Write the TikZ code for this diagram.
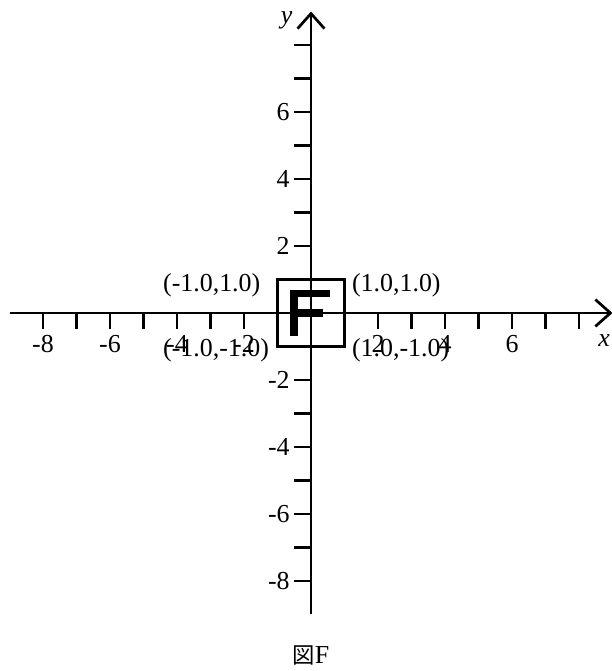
\documentclass[tikz,border=0pt]{standalone}
\usepackage{fontspec}
\setmainfont{Liberation Serif}
\newfontfamily\cjkfont{Noto Sans CJK JP}
\usetikzlibrary{arrows.meta}
\begin{document}
\begin{tikzpicture}[
  axisline/.style={line width=2.3pt,-{Straight Barb[length=0.45cm,width=0.8cm,line width=2.3pt]}},
  tickline/.style={line width=2.3pt},
  lbl/.style={font=\fontsize{22}{26}\selectfont,inner sep=0pt},
  sq/.style={line width=2.5pt},
  fbar/.style={fill=black,draw=none}
]
\useasboundingbox (-9.284,-10.687) rectangle (8.955,9.343);
% axes
\coordinate (xl) at (-9,0);
\coordinate (xr) at (9,0);
\coordinate (yb) at (0,-9);
\coordinate (yt) at (0,9);
\draw[axisline] (xl) -- (xr);
\draw[axisline] (yb) -- (yt);
% ticks
\foreach \k in {-8,...,-1,1,2,...,8}{
  \draw[tickline] (\k,0) -- (\k,-0.48);
  \draw[tickline] (0,\k) -- (-0.5,\k);
}
% tick labels
\foreach \k in {-8,-6,-4,-2,2,4,6}{
  \node[lbl,anchor=north] (xt\k) at (\k,-0.66) {\k};
}
\foreach \k in {-8,-6,-4,-2,2,4,6}{
  \node[lbl,anchor=east] (yt\k) at (-0.63,\k) {\k};
}
\node[lbl,anchor=east,font=\fontsize{22}{26}\selectfont\itshape] (ylab) at (-0.55,8.75) {y};
\node[lbl,font=\fontsize{22}{26}\selectfont\itshape] (xlab) at (8.75,-0.82) {x};
% square
\draw[sq] (-1,-1) rectangle (1,1);
% F
\fill[fbar] (-0.627,-0.69) rectangle (-0.388,0.69);
\fill[fbar] (-0.627,0.475) rectangle (0.567,0.69);
\fill[fbar] (-0.627,-0.12) rectangle (0.36,0.12);
% corner labels
\node[lbl,anchor=base west] (tl) at (-4.42,0.63) {(-1.0,1.0)};
\node[lbl,anchor=base west] (tr) at (1.22,0.63) {(1.0,1.0)};
\node[lbl,anchor=base west] (bl) at (-4.42,-1.31) {(-1.0,-1.0)};
\node[lbl,anchor=base west] (br) at (1.22,-1.31) {(1.0,-1.0)};
% caption
\node[lbl] (cap) at (0,-10.22) {{\cjkfont\fontsize{19}{23}\selectfont 図}F};
\end{tikzpicture}
\end{document}
